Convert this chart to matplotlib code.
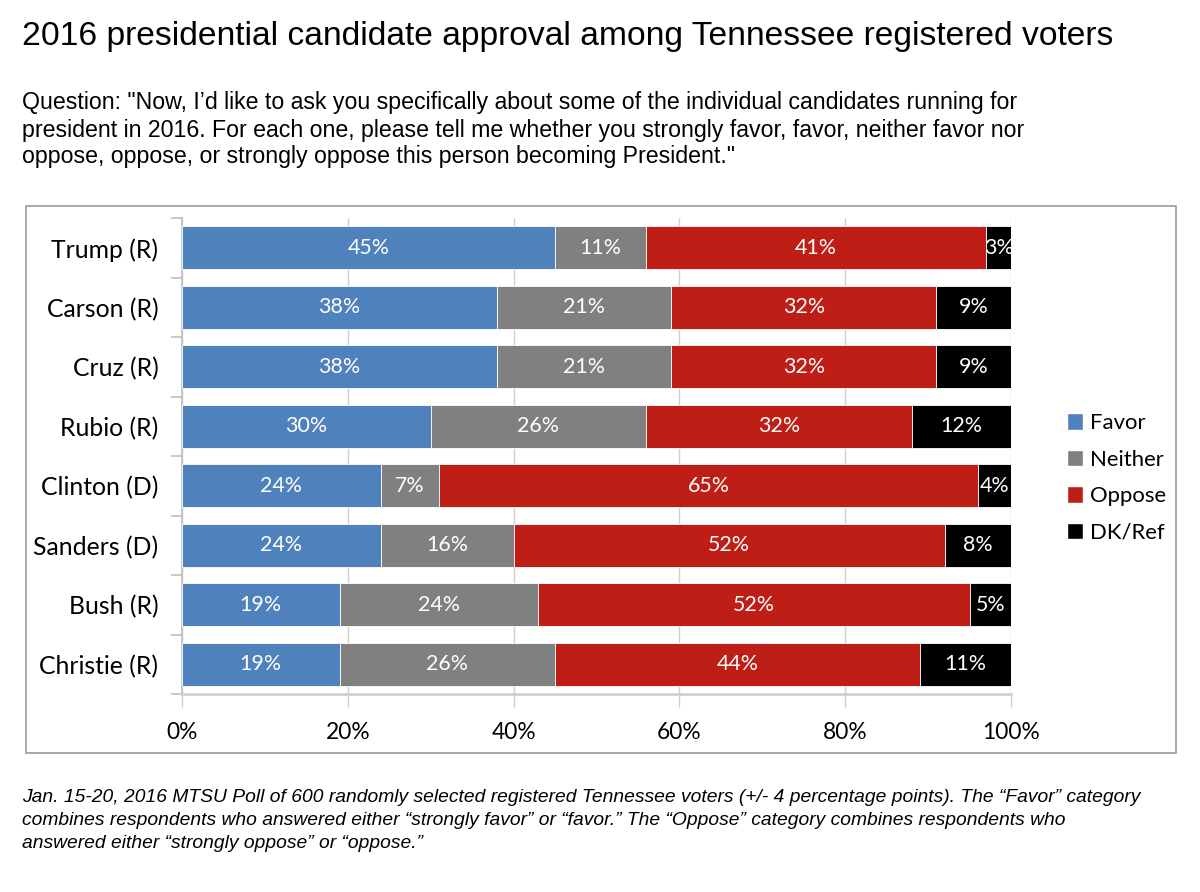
import matplotlib
matplotlib.use('Agg')
import matplotlib.pyplot as plt
from matplotlib.patches import Rectangle, Patch
import numpy as np

candidates = ["Trump (R)", "Carson (R)", "Cruz (R)", "Rubio (R)",
              "Clinton (D)", "Sanders (D)", "Bush (R)", "Christie (R)"]
favor = [45, 38, 38, 30, 24, 24, 19, 19]
neither = [11, 21, 21, 26, 7, 16, 24, 26]
oppose = [41, 32, 32, 32, 65, 52, 52, 44]
dkref = [3, 9, 9, 12, 4, 8, 5, 11]
series_names = ["Favor", "Neither", "Oppose", "DK/Ref"]
colors = ['#4F81BD', '#808080', '#BE1E16', '#000000']

title = "2016 presidential candidate approval among Tennessee registered voters"
question = [
    "Question: \"Now, I\u2019d like to ask you specifically about some of the individual candidates running for",
    "president in 2016. For each one, please tell me whether you strongly favor, favor, neither favor nor",
    "oppose, oppose, or strongly oppose this person becoming President.\"",
]
note = [
    "Jan. 15-20, 2016 MTSU Poll of 600 randomly selected registered Tennessee voters (+/- 4 percentage points). The \u201cFavor\u201d category",
    "combines respondents who answered either \u201cstrongly favor\u201d or \u201cfavor.\u201d The \u201cOppose\u201d category combines respondents who",
    "answered either \u201cstrongly oppose\u201d or \u201coppose.\u201d",
]

W, H = 1200, 892
fig = plt.figure(figsize=(W / 100, H / 100), dpi=100)

# outer chart frame
fig.patches.append(Rectangle((26 / W, 1 - 753 / H), 1150 / W, 547 / H,
                             transform=fig.transFigure, fill=False,
                             edgecolor='#9a9a9a', linewidth=1.2))

fig.text(22 / W, 1 - 37 / H, title, fontsize=24.2, family='Liberation Sans',
         va='center', ha='left')
for i, line in enumerate(question):
    fig.text(22 / W, 1 - (103 + 27 * i) / H, line, fontsize=16.7,
             family='Liberation Sans', va='center', ha='left')
for i, line in enumerate(note):
    fig.text(22 / W, 1 - (798 + 22.5 * i) / H, line, fontsize=13.9,
             family='Liberation Sans', style='italic', va='center', ha='left')

ax = fig.add_axes([182 / W, 1 - 694 / H, (1011 - 182) / W, (694 - 218) / H])

y = np.arange(len(candidates))
data = [favor, neither, oppose, dkref]
left = np.zeros(len(candidates))
for vals, name, c in zip(data, series_names, colors):
    vals = np.array(vals, dtype=float)
    ax.barh(y, vals, left=left, height=0.72, color=c, edgecolor='white',
            linewidth=0.6, label=name, zorder=3)
    for yi, l, v in zip(y, left, vals):
        ax.text(l + v / 2, yi, "%d%%" % v, color='white', ha='center',
                va='center', fontsize=15.4, family='Lato', zorder=4)
    left += vals

ax.set_xlim(0, 100)
ax.set_ylim(len(candidates) - 0.5, -0.5)
ax.set_xticks(np.arange(0, 101, 20))
ax.set_xticklabels(["%d%%" % v for v in range(0, 101, 20)])
ax.set_yticks(y)
ax.set_yticklabels(candidates)
ax.set_yticks(np.arange(-0.5, len(candidates), 1), minor=True)
ax.tick_params(axis='y', which='major', length=0, pad=17, labelsize=17.8)
ax.tick_params(axis='y', which='minor', length=8, color='#bfbfbf', width=1.2)
ax.tick_params(axis='x', length=9, color='#d0d0d0', width=1, pad=11, labelsize=16.4)
for lab in ax.get_xticklabels() + ax.get_yticklabels():
    lab.set_family('Lato')

ax.grid(axis='x', color='#d0d0d0', linewidth=1, zorder=0)
for s in ['top', 'right']:
    ax.spines[s].set_visible(False)
ax.spines['left'].set_color('#bfbfbf')
ax.spines['left'].set_linewidth(1.2)
ax.spines['bottom'].set_color('#d0d0d0')
ax.spines['bottom'].set_linewidth(2)

handles = [Patch(facecolor=c, edgecolor='white', label=n) for n, c in zip(series_names, colors)]
leg = fig.legend(handles=handles, loc='center left', bbox_to_anchor=(1047 / W, 1 - 478 / H),
                 frameon=False, handlelength=0.75, handleheight=0.75, handletextpad=0.3,
                 labelspacing=0.75, prop={'family': 'Lato', 'size': 15.9})

fig.savefig('out.png', dpi=100)
